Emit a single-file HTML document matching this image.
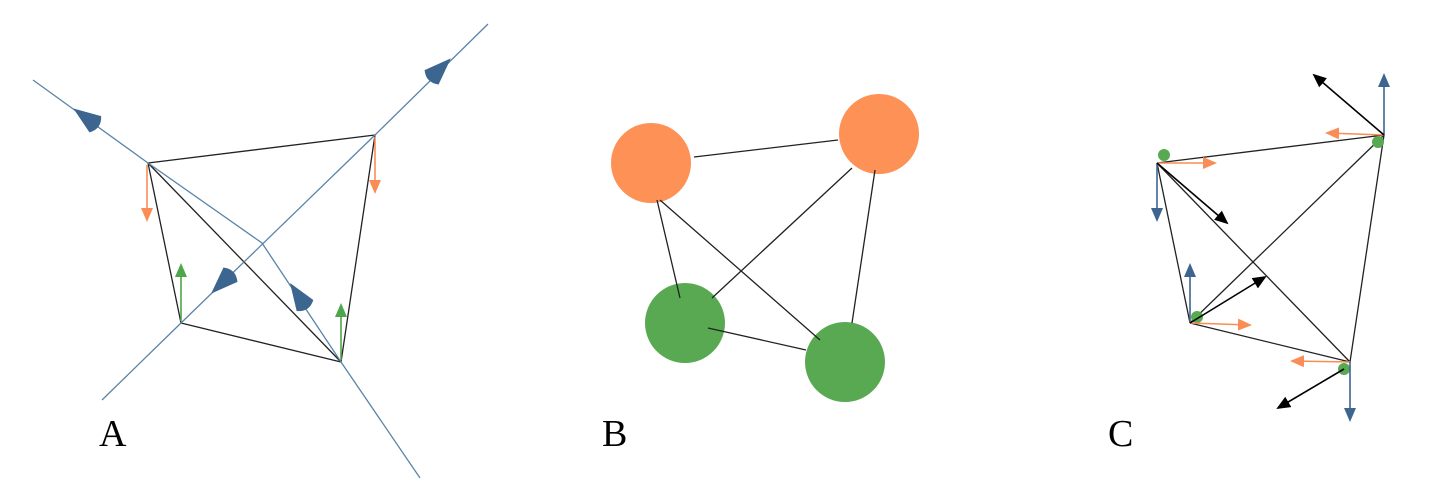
<!DOCTYPE html>
<html><head><style>body{margin:0;background:#fff}svg{display:block}text{font-family:"Liberation Serif",serif;font-size:38px}</style></head>
<body>
<svg width="1435" height="504" viewBox="0 0 1435 504" xmlns="http://www.w3.org/2000/svg">
<defs>
<marker id="mo" markerWidth="14" markerHeight="12" refX="12" refY="6" orient="auto" markerUnits="userSpaceOnUse" viewBox="0 0 14 12"><path d="M0,0L14,6L0,12z" fill="#f98d55"/></marker>
<marker id="mg" markerWidth="14" markerHeight="12" refX="12" refY="6" orient="auto" markerUnits="userSpaceOnUse" viewBox="0 0 14 12"><path d="M0,0L14,6L0,12z" fill="#4ea64b"/></marker>
<marker id="mb" markerWidth="14" markerHeight="12" refX="12" refY="6" orient="auto" markerUnits="userSpaceOnUse" viewBox="0 0 14 12"><path d="M0,0L14,6L0,12z" fill="#3c668f"/></marker>
<marker id="mk" markerWidth="14" markerHeight="12" refX="12" refY="6" orient="auto" markerUnits="userSpaceOnUse" viewBox="0 0 14 12"><path d="M0,0L14,6L0,12z" fill="#000"/></marker>
</defs>
<g stroke-width="1.3" fill="none">
<g stroke="#222">
<line x1="148" y1="163" x2="375" y2="135"/><line x1="148" y1="163" x2="181" y2="323"/>
<line x1="148" y1="163" x2="341" y2="362"/><line x1="375" y1="135" x2="341" y2="362"/>
<line x1="181" y1="323" x2="341" y2="362"/>
</g>
<g stroke="#5a84a8">
<polyline points="33,80 148,163 262,243 341,362 420,478"/>
<polyline points="488,24 375,135 181,323 102,400"/>
</g>
<g stroke-width="1.6">
<line x1="147" y1="165" x2="147" y2="220" stroke="#f98d55" marker-end="url(#mo)"/>
<line x1="375" y1="137" x2="375" y2="192" stroke="#f98d55" marker-end="url(#mo)"/>
<line x1="181" y1="321" x2="181" y2="265" stroke="#4ea64b" marker-end="url(#mg)"/>
<line x1="341" y1="360" x2="341" y2="305" stroke="#4ea64b" marker-end="url(#mg)"/>
</g>
<g fill="#3c668f" stroke="none">
<path transform="translate(88,119) rotate(215.8)" d="M18,0 L-9,-10 Q-17,0 -9,10 Z"/>
<path transform="translate(438,71) rotate(-44.5)" d="M18,0 L-9,-10 Q-17,0 -9,10 Z"/>
<path transform="translate(224,281) rotate(135.7)" d="M18,0 L-9,-10 Q-17,0 -9,10 Z"/>
<path transform="translate(300,298) rotate(236.4)" d="M18,0 L-9,-10 Q-17,0 -9,10 Z"/>
</g>
<g stroke="none">
<circle cx="651" cy="163" r="40" fill="#fd9156"/><circle cx="879" cy="134" r="40" fill="#fd9156"/>
<circle cx="685" cy="323" r="40" fill="#58a952"/><circle cx="845" cy="362" r="40" fill="#58a952"/>
</g>
<g stroke="#222">
<line x1="694" y1="157" x2="838" y2="140"/><line x1="657" y1="200" x2="680" y2="298"/>
<line x1="852" y1="168" x2="712" y2="298"/><line x1="875" y1="170" x2="852" y2="323"/>
<line x1="660" y1="200" x2="820" y2="340"/><line x1="708" y1="328" x2="806" y2="350"/>
</g>
<g stroke="#222">
<line x1="1157" y1="163" x2="1384" y2="135"/><line x1="1157" y1="163" x2="1190" y2="323"/>
<line x1="1157" y1="163" x2="1350" y2="362"/><line x1="1384" y1="135" x2="1190" y2="323"/>
<line x1="1384" y1="135" x2="1350" y2="362"/><line x1="1190" y1="323" x2="1350" y2="362"/>
</g>
<g fill="#58a952" stroke="none">
<circle cx="1164" cy="155" r="6"/><circle cx="1378" cy="142" r="6"/>
<circle cx="1197" cy="317" r="6"/><circle cx="1344" cy="369" r="6"/>
</g>
<g stroke-width="1.6">
<line x1="1157" y1="163" x2="1215" y2="163" stroke="#f98d55" marker-end="url(#mo)"/>
<line x1="1157" y1="163" x2="1157" y2="220" stroke="#3c668f" marker-end="url(#mb)"/>
<line x1="1157" y1="163" x2="1227" y2="223" stroke="#000" marker-end="url(#mk)"/>
<line x1="1384" y1="135" x2="1327" y2="133" stroke="#f98d55" marker-end="url(#mo)"/>
<line x1="1384" y1="135" x2="1384" y2="75" stroke="#3c668f" marker-end="url(#mb)"/>
<line x1="1384" y1="135" x2="1314" y2="75" stroke="#000" marker-end="url(#mk)"/>
<line x1="1190" y1="323" x2="1190" y2="265" stroke="#3c668f" marker-end="url(#mb)"/>
<line x1="1190" y1="323" x2="1250" y2="325" stroke="#f98d55" marker-end="url(#mo)"/>
<line x1="1190" y1="323" x2="1265" y2="277" stroke="#000" marker-end="url(#mk)"/>
<line x1="1350" y1="362" x2="1292" y2="361" stroke="#f98d55" marker-end="url(#mo)"/>
<line x1="1350" y1="362" x2="1350" y2="420" stroke="#3c668f" marker-end="url(#mb)"/>
<line x1="1344" y1="369" x2="1278" y2="408" stroke="#000" marker-end="url(#mk)"/>
</g>
</g>
<text x="99" y="446">A</text>
<text x="602" y="446">B</text>
<text x="1108" y="446">C</text>
</svg>
</body></html>
